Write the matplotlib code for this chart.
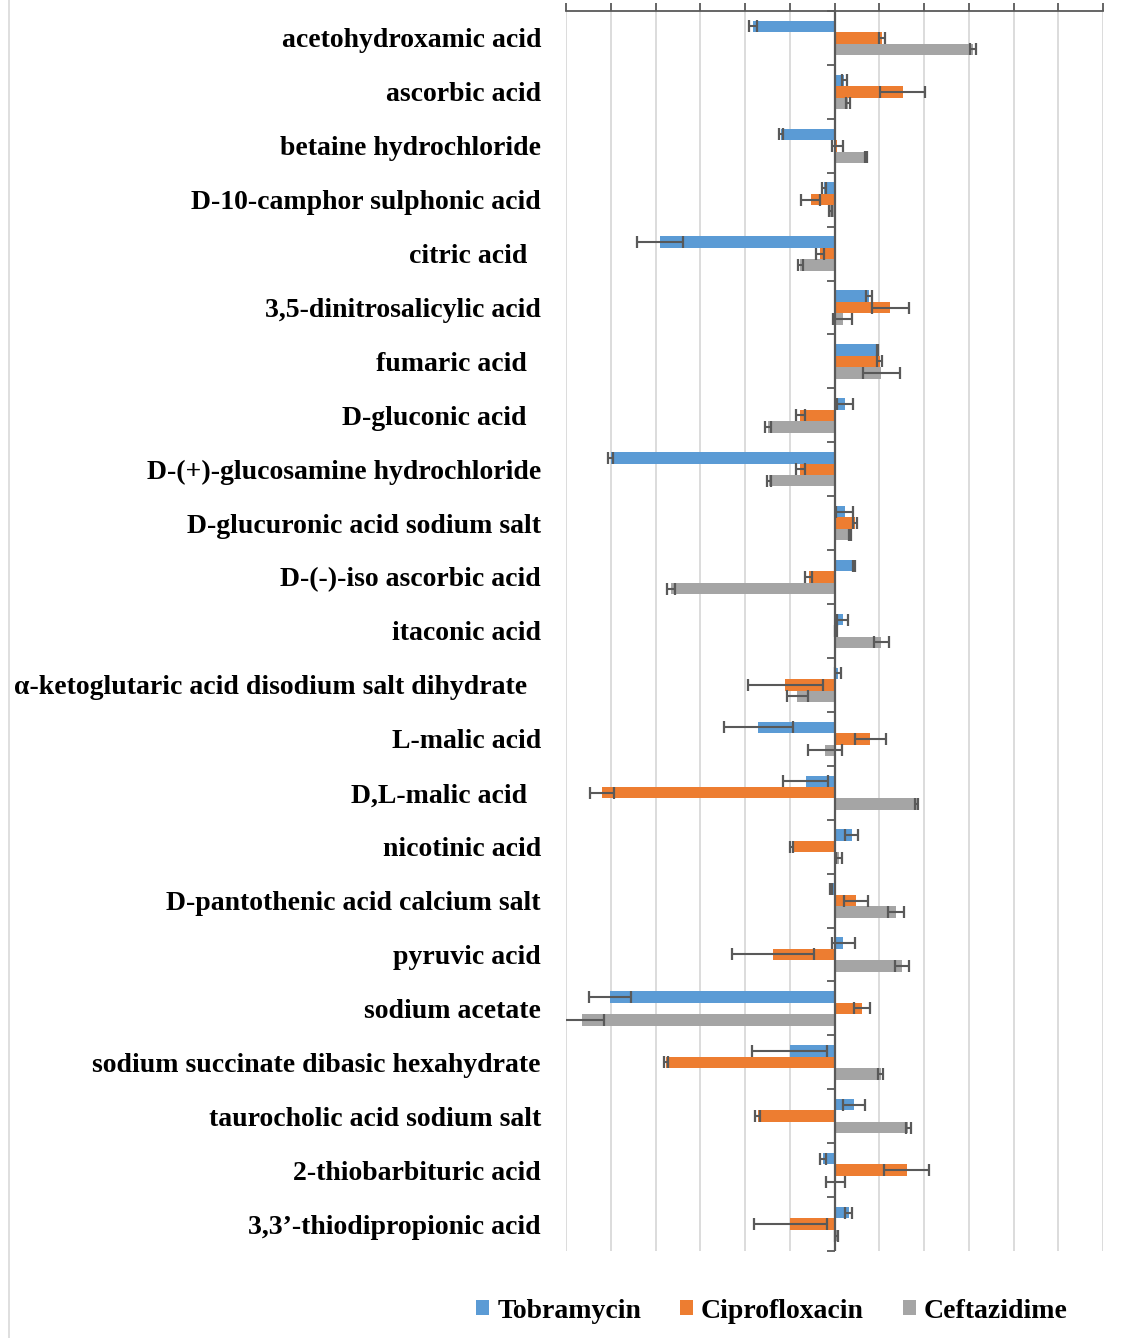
import numpy as np
import matplotlib
matplotlib.use("Agg")
import matplotlib.pyplot as plt
from matplotlib.patches import Patch
from matplotlib.lines import Line2D

compounds = [
    "acetohydroxamic acid",
    "ascorbic acid",
    "betaine hydrochloride",
    "D-10-camphor sulphonic acid",
    "citric acid  ",
    "3,5-dinitrosalicylic acid",
    "fumaric acid  ",
    "D-gluconic acid  ",
    "D-(+)-glucosamine hydrochloride",
    "D-glucuronic acid sodium salt",
    "D-(-)-iso ascorbic acid",
    "itaconic acid",
    "α-ketoglutaric acid disodium salt dihydrate  ",
    "L-malic acid",
    "D,L-malic acid  ",
    "nicotinic acid",
    "D-pantothenic acid calcium salt",
    "pyruvic acid",
    "sodium acetate",
    "sodium succinate dibasic hexahydrate",
    "taurocholic acid sodium salt",
    "2-thiobarbituric acid",
    "3,3’-thiodipropionic acid",
]

tobramycin = [-18.2, 2.2, -12.0, -2.4, -39.0, 7.7, 9.6, 2.3, -50.0, 2.3, 4.3, 1.8,
              0.8, -17.0, -6.4, 3.8, -0.8, 2.0, -50.2, -10.0, 4.4, -2.6, 3.2]
tobramycin_err = [0.8, 0.6, 0.5, 0.5, 5.1, 0.6, 0.2, 1.8, 0.6, 1.9, 0.2, 1.2,
                  0.6, 7.8, 5.0, 1.5, 0.3, 2.6, 4.7, 8.4, 2.5, 0.7, 0.8]

ciprofloxacin = [10.6, 15.2, 0.6, -5.3, -3.2, 12.5, 10.1, -7.6, -7.6, 4.6, -5.8, 0.4,
                 -11.0, 8.0, -51.9, -9.6, 4.8, -13.7, 6.1, -37.6, -17.2, 16.1, -9.9]
ciprofloxacin_err = [0.6, 5.1, 1.2, 2.1, 0.9, 4.1, 0.5, 1.1, 1.1, 0.4, 0.7, 0.2,
                     8.4, 3.4, 2.7, 0.3, 2.6, 9.2, 1.8, 0.5, 0.6, 5.0, 8.2]

ceftazidime = [31.0, 3.0, 7.0, -0.9, -7.6, 1.8, 10.5, -14.8, -14.6, 3.5, -36.5, 10.5,
               -8.3, -2.2, 18.4, 1.0, 13.7, 15.1, -56.4, 10.3, 16.5, 0.2, 0.5]
ceftazidime_err = [0.7, 0.5, 0.2, 0.4, 0.6, 2.1, 4.2, 0.7, 0.5, 0.2, 0.9, 1.6,
                   2.3, 3.8, 0.3, 0.7, 1.8, 1.6, 5.0, 0.6, 0.5, 2.2, 0.3]

series_names = ["Tobramycin", "Ciprofloxacin", "Ceftazidime"]
series_vals = [tobramycin, ciprofloxacin, ceftazidime]
series_errs = [tobramycin_err, ciprofloxacin_err, ceftazidime_err]
colors = ["#5B9BD5", "#ED7D31", "#A5A5A5"]

W, H, DPI = 1121, 1338, 100
fig = plt.figure(figsize=(W / DPI, H / DPI), dpi=DPI)
ax = fig.add_axes([566 / W, 1 - 1251 / H, (1103 - 566) / W, (1251 - 11) / H])

serif_bold = dict(family=["Liberation Serif", "DejaVu Serif"], weight="bold", size=20)

n = len(compounds)
y = np.arange(n)
bar_h = 0.213
offsets = [-bar_h, 0.0, bar_h]
axis_col = "#595959"

for vals, errs, col, off in zip(series_vals, series_errs, colors, offsets):
    ax.barh(y + off, vals, height=bar_h, color=col, xerr=errs, zorder=2,
            error_kw=dict(ecolor=axis_col, elinewidth=1.5, capsize=4,
                          capthick=1.6, zorder=3))

ax.set_xlim(-60, 60)
ax.set_ylim(n - 0.5, -0.5)
ax.set_xticks(np.arange(-60, 61, 10))
ax.xaxis.set_ticks_position("top")
ax.tick_params(axis="x", which="both", direction="out", length=6, width=1.3,
               color=axis_col, labeltop=False, labelbottom=False)
ax.grid(axis="x", color="#d9d9d9", linewidth=1.3, zorder=0)
ax.set_axisbelow(True)

ax.set_yticks(y)
ax.set_yticklabels(compounds, fontdict=serif_bold)
ax.tick_params(axis="y", length=0, pad=18)

for side in ("left", "right", "bottom"):
    ax.spines[side].set_visible(False)
ax.spines["top"].set_color(axis_col)
ax.spines["top"].set_linewidth(1.3)

# category axis through zero, with separator ticks between groups
ax.axvline(0, color=axis_col, linewidth=1.6, zorder=4)
zero_axis = ax.secondary_yaxis(0.5)
zero_axis.set_yticks(np.arange(-0.5, n, 1.0))
zero_axis.set_yticklabels([])
zero_axis.tick_params(axis="y", direction="in", length=6, width=1.3, color=axis_col)
for sp in zero_axis.spines.values():
    sp.set_visible(False)

handles = [Patch(facecolor=c, edgecolor="none") for c in colors]
fig.legend(handles, series_names, loc="center", bbox_to_anchor=(772 / W, 1 - 1311 / H),
           ncol=3, frameon=False, prop=dict(family="Liberation Serif", weight="bold", size=20),
           handlelength=0.47, handleheight=0.47, handletextpad=0.29, columnspacing=1.4)

fig.add_artist(Line2D([8.5 / W, 8.5 / W], [0, 1], color="#d9d9d9", linewidth=1.2))

fig.savefig("out.png", dpi=DPI, facecolor="white")
